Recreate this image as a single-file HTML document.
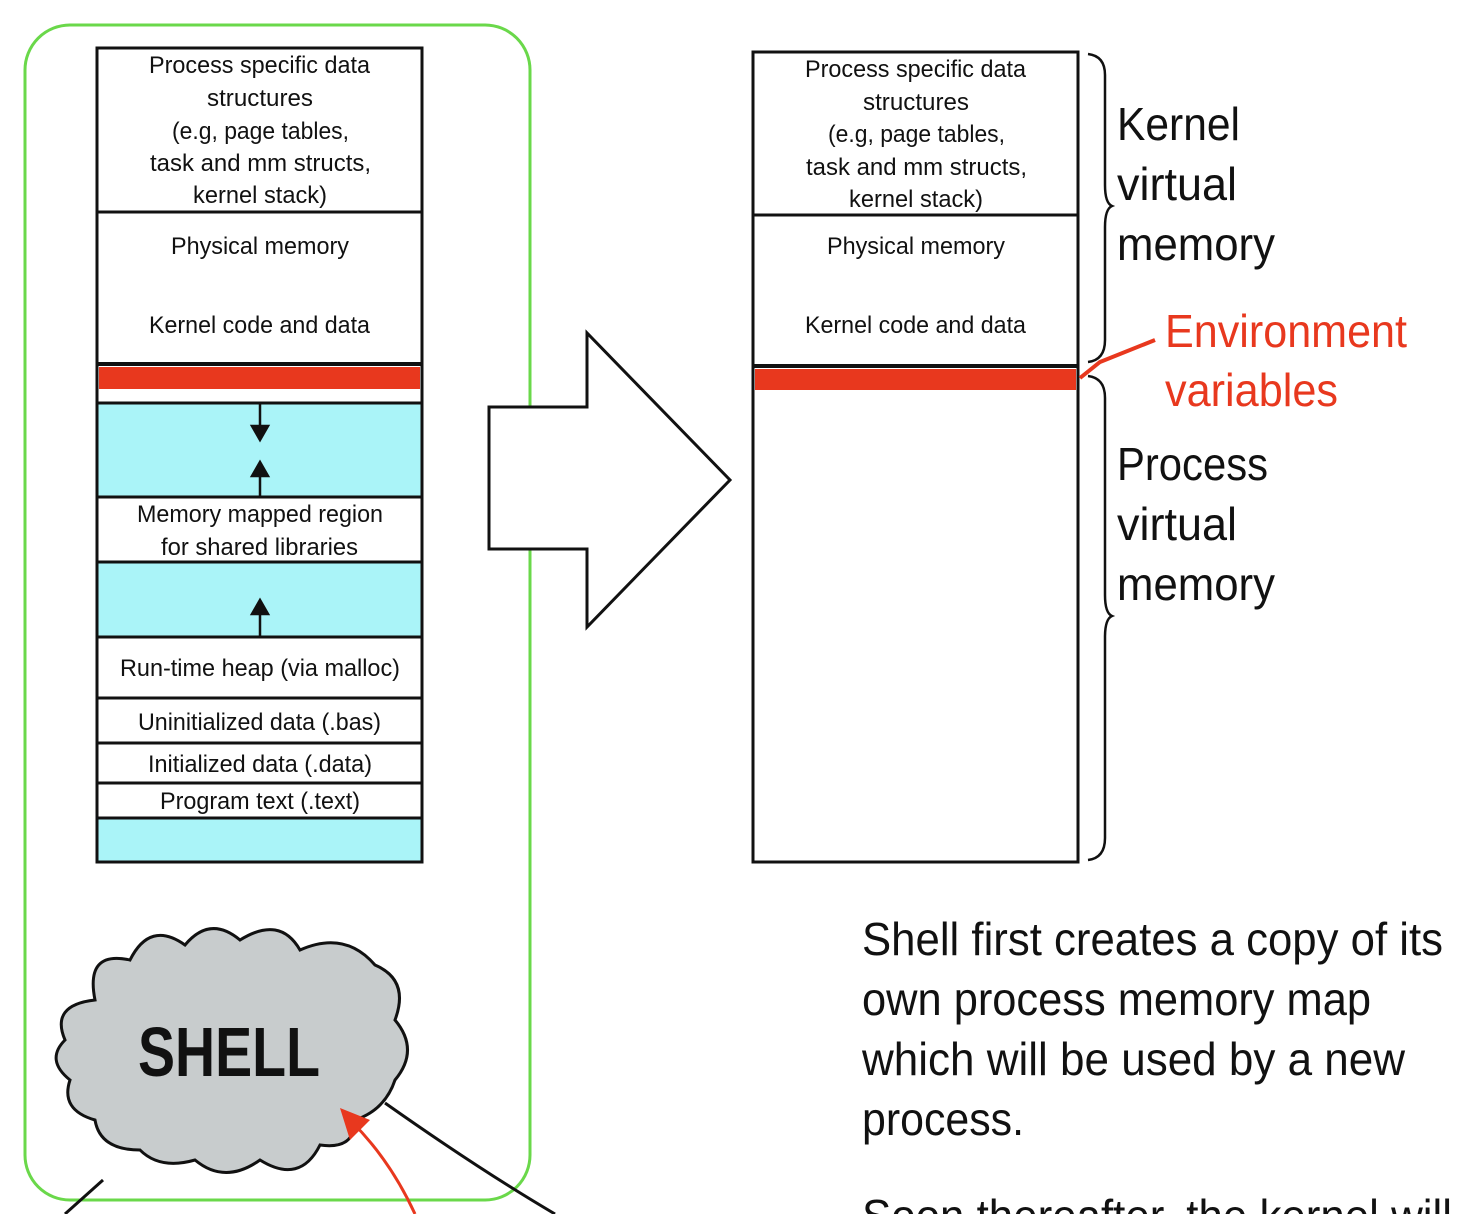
<!DOCTYPE html>
<html><head><style>
body{margin:0;width:1482px;height:1214px;overflow:hidden;background:#fff;font-family:"Liberation Sans",sans-serif;}
svg text{font-family:"Liberation Sans",sans-serif;}
</style></head><body>
<svg width="1482" height="1214" viewBox="0 0 1482 1214" xmlns="http://www.w3.org/2000/svg">
<rect x="25" y="25" width="505" height="1175" rx="45" fill="none" stroke="#6ad84a" stroke-width="3"/>
<g stroke="#111" stroke-width="3">
<rect x="97" y="48" width="325" height="814" fill="#fff"/>
<rect x="97" y="403" width="325" height="94" fill="#aaf4f8"/>
<rect x="97" y="562" width="325" height="75" fill="#aaf4f8"/>
<rect x="97" y="818" width="325" height="44" fill="#aaf4f8"/>
<line x1="97" y1="212" x2="422" y2="212"/>
<line x1="97" y1="698" x2="422" y2="698"/>
<line x1="97" y1="743" x2="422" y2="743"/>
<line x1="97" y1="783" x2="422" y2="783"/>
<line x1="97" y1="364" x2="422" y2="364" stroke-width="4"/>
</g>
<rect x="99" y="367" width="321" height="22" fill="#e8381e"/>
<g stroke="#111" stroke-width="2.5" fill="#111">
<line x1="260" y1="404" x2="260" y2="432"/><polygon points="252,426 268,426 260,440"/>
<line x1="260" y1="497" x2="260" y2="470"/><polygon points="252,476 268,476 260,462"/>
<line x1="260" y1="637" x2="260" y2="608"/><polygon points="252,614 268,614 260,600"/>
</g>
<g font-size="24" fill="#111" lengthAdjust="spacingAndGlyphs">
<text x="149" y="73" textLength="221" lengthAdjust="spacingAndGlyphs">Process specific data</text>
<text x="207" y="106" textLength="106" lengthAdjust="spacingAndGlyphs">structures</text>
<text x="172" y="139" textLength="177" lengthAdjust="spacingAndGlyphs">(e.g, page tables,</text>
<text x="150" y="171" textLength="221" lengthAdjust="spacingAndGlyphs">task and mm structs,</text>
<text x="193" y="203" textLength="134" lengthAdjust="spacingAndGlyphs">kernel stack)</text>
<text x="171" y="254" textLength="178" lengthAdjust="spacingAndGlyphs">Physical memory</text>
<text x="149" y="333" textLength="221" lengthAdjust="spacingAndGlyphs">Kernel code and data</text>
<text x="137" y="522" textLength="246" lengthAdjust="spacingAndGlyphs">Memory mapped region</text>
<text x="161" y="555" textLength="197" lengthAdjust="spacingAndGlyphs">for shared libraries</text>
<text x="120" y="676" textLength="280" lengthAdjust="spacingAndGlyphs">Run-time heap (via malloc)</text>
<text x="138" y="730" textLength="243" lengthAdjust="spacingAndGlyphs">Uninitialized data (.bas)</text>
<text x="148" y="772" textLength="224" lengthAdjust="spacingAndGlyphs">Initialized data (.data)</text>
<text x="160" y="809" textLength="200" lengthAdjust="spacingAndGlyphs">Program text (.text)</text>
</g>
<polygon points="489,407 587,407 587,333 730,480 587,627 587,549 489,549" fill="#fff" stroke="#111" stroke-width="3"/>
<g stroke="#111" stroke-width="3">
<rect x="753" y="52" width="325" height="810" fill="#fff"/>
<line x1="753" y1="215" x2="1078" y2="215"/>
<line x1="753" y1="366" x2="1078" y2="366" stroke-width="4"/>
</g>
<rect x="755" y="369" width="321" height="21" fill="#e8381e"/>
<g font-size="24" fill="#111">
<text x="805" y="77" textLength="221" lengthAdjust="spacingAndGlyphs">Process specific data</text>
<text x="863" y="110" textLength="106" lengthAdjust="spacingAndGlyphs">structures</text>
<text x="828" y="142" textLength="177" lengthAdjust="spacingAndGlyphs">(e.g, page tables,</text>
<text x="806" y="175" textLength="221" lengthAdjust="spacingAndGlyphs">task and mm structs,</text>
<text x="849" y="207" textLength="134" lengthAdjust="spacingAndGlyphs">kernel stack)</text>
<text x="827" y="254" textLength="178" lengthAdjust="spacingAndGlyphs">Physical memory</text>
<text x="805" y="333" textLength="221" lengthAdjust="spacingAndGlyphs">Kernel code and data</text>
</g>
<g fill="none" stroke="#111" stroke-width="2.5">
<path d="M1088,54 Q1105,56 1105,75 L1105,185 Q1105,203 1112,206 Q1105,209 1105,227 L1105,340 Q1105,360 1088,362"/>
<path d="M1088,376 Q1105,378 1105,398 L1105,595 Q1105,613 1112,616 Q1105,619 1105,637 L1105,838 Q1105,858 1088,860"/>
</g>
<path d="M1080,378 L1100,362 L1155,340" fill="none" stroke="#e8381e" stroke-width="4"/>
<g font-size="46" fill="#111">
<text x="1117" y="140" textLength="123" lengthAdjust="spacingAndGlyphs">Kernel</text>
<text x="1117" y="200" textLength="120" lengthAdjust="spacingAndGlyphs">virtual</text>
<text x="1117" y="260" textLength="158" lengthAdjust="spacingAndGlyphs">memory</text>
<text x="1117" y="480" textLength="151" lengthAdjust="spacingAndGlyphs">Process</text>
<text x="1117" y="540" textLength="120" lengthAdjust="spacingAndGlyphs">virtual</text>
<text x="1117" y="600" textLength="158" lengthAdjust="spacingAndGlyphs">memory</text>
</g>
<g font-size="46" fill="#e8381e">
<text x="1165" y="347" textLength="242" lengthAdjust="spacingAndGlyphs">Environment</text>
<text x="1165" y="406" textLength="173" lengthAdjust="spacingAndGlyphs">variables</text>
</g>
<g font-size="46" fill="#111">
<text x="862" y="955" textLength="581" lengthAdjust="spacingAndGlyphs">Shell first creates a copy of its</text>
<text x="862" y="1015" textLength="509" lengthAdjust="spacingAndGlyphs">own process memory map</text>
<text x="862" y="1075" textLength="543" lengthAdjust="spacingAndGlyphs">which will be used by a new</text>
<text x="862" y="1135" textLength="162" lengthAdjust="spacingAndGlyphs">process.</text>
<text x="862" y="1232" textLength="590" lengthAdjust="spacingAndGlyphs">Soon thereafter, the kernel will</text>
</g>
<path d="M95,1000 Q85,950 130,960 Q150,920 185,945 Q210,915 240,940 Q280,915 300,950 Q345,930 375,965 Q410,980 395,1020 Q420,1050 395,1080 Q385,1110 355,1120 Q355,1150 320,1145 Q300,1185 260,1160 Q225,1185 195,1160 Q160,1170 140,1150 Q100,1150 95,1120 Q60,1110 70,1080 Q45,1060 65,1040 Q50,1005 95,1000 Z" fill="#c8cccd" stroke="#111" stroke-width="3"/>
<text x="138" y="1076" font-size="70" font-weight="bold" fill="#111" textLength="182" lengthAdjust="spacingAndGlyphs">SHELL</text>
<line x1="103" y1="1180" x2="65" y2="1214" stroke="#111" stroke-width="3"/>
<path d="M385,1103 Q480,1170 555,1214" fill="none" stroke="#111" stroke-width="3"/>
<path d="M415,1214 Q390,1160 352,1122" fill="none" stroke="#e8381e" stroke-width="3"/>
<polygon points="340,1108 370,1120 350,1140" fill="#e8381e"/>
</svg>
</body></html>
